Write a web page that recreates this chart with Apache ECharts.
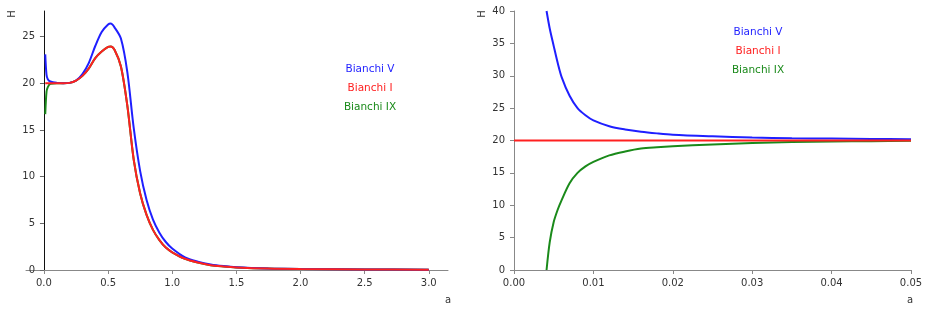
<!DOCTYPE html>
<html>
<head>
<meta charset="utf-8">
<script src="https://cdn.jsdelivr.net/npm/echarts@6/dist/echarts.min.js"></script>
<style>
html, body { margin: 0; padding: 0; background: #fff; }
#main { width: 929px; height: 313px; }
</style>
</head>
<body>
<div id="main"></div>
<script>
var chart = echarts.init(document.getElementById('main'));

// left panel: H(a) over 0..3
var leftA = [0.01, 0.02, 0.03, 0.05, 0.1, 0.15, 0.2, 0.25, 0.3, 0.35, 0.4, 0.45, 0.5, 0.52, 0.55, 0.6, 0.65, 0.7, 0.75, 0.8, 0.85, 0.9, 0.95, 1.0, 1.1, 1.2, 1.3, 1.4, 1.5, 1.75, 2.0, 2.5, 3.0];
var leftBlue = [23.1, 20.9, 20.45, 20.2, 20.05, 20.0, 20.05, 20.3, 21.0, 22.2, 24.0, 25.5, 26.3, 26.4, 26.0, 24.8, 21.2, 15.2, 10.6, 7.5, 5.4, 4.0, 3.0, 2.3, 1.35, 0.9, 0.6, 0.42, 0.3, 0.17, 0.11, 0.06, 0.04];
var leftRed = [20, 20, 20, 20, 20, 20, 20.05, 20.3, 20.8, 21.6, 22.7, 23.4, 23.9, 23.95, 23.6, 21.8, 17.6, 11.8, 8.2, 5.9, 4.3, 3.2, 2.4, 1.9, 1.2, 0.8, 0.52, 0.38, 0.28, 0.15, 0.1, 0.06, 0.04];
var leftGreen = [16.7, 19.1, 19.6, 19.95, 20, 20, 20.05, 20.3, 20.8, 21.6, 22.7, 23.4, 23.9, 23.95, 23.6, 21.8, 17.6, 11.8, 8.2, 5.9, 4.3, 3.2, 2.4, 1.9, 1.2, 0.8, 0.52, 0.38, 0.28, 0.15, 0.1, 0.06, 0.04];

// right panel: zoom on small a
var rightA = [0.0041, 0.0045, 0.005, 0.0055, 0.006, 0.007, 0.008, 0.009, 0.01, 0.012, 0.014, 0.016, 0.018, 0.02, 0.025, 0.03, 0.035, 0.04, 0.045, 0.05];
var rightBlue = [40, 37.3, 34.6, 32.0, 29.8, 26.9, 25.0, 23.9, 23.1, 22.2, 21.7, 21.35, 21.1, 20.9, 20.65, 20.45, 20.35, 20.3, 20.25, 20.2];
var rightGreen = [0, 4.3, 7.4, 9.3, 10.8, 13.4, 15.0, 16.0, 16.7, 17.7, 18.3, 18.75, 18.95, 19.1, 19.4, 19.6, 19.75, 19.85, 19.9, 19.95];
var rightRedA = [0, 0.01, 0.02, 0.03, 0.04, 0.05];
var rightRed = [20, 20, 20, 20, 20, 20];

var leftXTicks = [0, 0.5, 1.0, 1.5, 2.0, 2.5, 3.0];
var leftYTicks = [0, 5, 10, 15, 20, 25];
var names = ['Bianchi V', 'Bianchi I', 'Bianchi IX'];

var BLUE = '#1f1fff', RED = '#ff2020', GREEN = '#1a8a1a';
var FONT = 'DejaVu Sans';

function pairs(xs, ys) {
    return xs.map(function (x, i) { return [x, ys[i]]; });
}

function line(name, color, xi, data) {
    return {
        name: name,
        type: 'line',
        xAxisIndex: xi,
        yAxisIndex: xi,
        data: data,
        showSymbol: false,
        smooth: 0.3,
        lineStyle: { color: color, width: 2 },
        itemStyle: { color: color },
        silent: true,
        animation: false
    };
}

var labelStyle = { fontFamily: FONT, fontSize: 10, color: '#333' };

function legend(left, top) {
    return {
        orient: 'vertical',
        left: left,
        top: top,
        itemWidth: 0,
        itemHeight: 0,
        itemGap: 8,
        itemStyle: { opacity: 0 },
        lineStyle: { opacity: 0 },
        data: names,
        formatter: function (n) {
            var key = n === 'Bianchi V' ? 'v' : (n === 'Bianchi I' ? 'i' : 'ix');
            return '{' + key + '|' + n + '}';
        },
        textStyle: {
            fontFamily: FONT,
            fontSize: 10.5,
            rich: {
                v: { color: BLUE, width: 60, align: 'center', lineHeight: 14, fontFamily: FONT, fontSize: 10.5 },
                i: { color: RED, width: 60, align: 'center', lineHeight: 14, fontFamily: FONT, fontSize: 10.5 },
                ix: { color: GREEN, width: 60, align: 'center', lineHeight: 14, fontFamily: FONT, fontSize: 10.5 }
            }
        },
        selectedMode: false
    };
}

option = {
    backgroundColor: '#fff',
    animation: false,
    grid: [
        { left: 26, right: 481, top: 11, bottom: 43 },
        { left: 514, right: 18, top: 11, bottom: 43 }
    ],
    legend: [legend(329, 59), legend(717, 22)],
    xAxis: [{
        type: 'value',
        gridIndex: 0,
        min: -0.14,
        max: 3.15,
        axisLine: { onZero: true, lineStyle: { color: '#888', width: 1 } },
        axisTick: { customValues: leftXTicks, length: 4, lineStyle: { color: '#888' } },
        axisLabel: Object.assign({ customValues: leftXTicks, margin: 8, formatter: function (v) { return v.toFixed(1); } }, labelStyle),
        splitLine: { show: false }
    }, {
        type: 'value',
        gridIndex: 1,
        min: 0,
        max: 0.05,
        interval: 0.01,
        axisLine: { lineStyle: { color: '#888', width: 1 } },
        axisTick: { length: 4, lineStyle: { color: '#888' } },
        axisLabel: Object.assign({ margin: 8, formatter: function (v) { return v.toFixed(2); } }, labelStyle),
        splitLine: { show: false }
    }],
    yAxis: [{
        type: 'value',
        gridIndex: 0,
        min: 0,
        max: 27.75,
        axisLine: { show: true, onZero: true, lineStyle: { color: '#111', width: 1 } },
        axisTick: { show: true, customValues: leftYTicks, length: 4, lineStyle: { color: '#666' } },
        axisLabel: Object.assign({ customValues: leftYTicks, margin: -9 }, labelStyle),
        splitLine: { show: false }
    }, {
        type: 'value',
        gridIndex: 1,
        min: 0,
        max: 40,
        interval: 5,
        axisLine: { show: true, lineStyle: { color: '#888', width: 1 } },
        axisTick: { show: true, length: 4, lineStyle: { color: '#888' } },
        axisLabel: Object.assign({ margin: 9 }, labelStyle),
        splitLine: { show: false }
    }],
    graphic: [
        { type: 'text', x: 12, y: 14, rotation: Math.PI / 2, style: { text: 'H', font: '10px "DejaVu Sans"', fill: '#333', textAlign: 'center', textVerticalAlign: 'middle' } },
        { type: 'text', x: 482, y: 14, rotation: Math.PI / 2, style: { text: 'H', font: '10px "DejaVu Sans"', fill: '#333', textAlign: 'center', textVerticalAlign: 'middle' } },
        { type: 'text', x: 448, y: 300, style: { text: 'a', font: '10px "DejaVu Sans"', fill: '#333', textAlign: 'center', textVerticalAlign: 'middle' } },
        { type: 'text', x: 910, y: 300, style: { text: 'a', font: '10px "DejaVu Sans"', fill: '#333', textAlign: 'center', textVerticalAlign: 'middle' } }
    ],
    series: [
        line('Bianchi IX', GREEN, 0, pairs(leftA, leftGreen)),
        line('Bianchi V', BLUE, 0, pairs(leftA, leftBlue)),
        line('Bianchi I', RED, 0, pairs(leftA, leftRed)),
        line('Bianchi IX', GREEN, 1, pairs(rightA, rightGreen)),
        line('Bianchi V', BLUE, 1, pairs(rightA, rightBlue)),
        line('Bianchi I', RED, 1, pairs(rightRedA, rightRed))
    ]
};

chart.setOption(option);
</script>
</body>
</html>
